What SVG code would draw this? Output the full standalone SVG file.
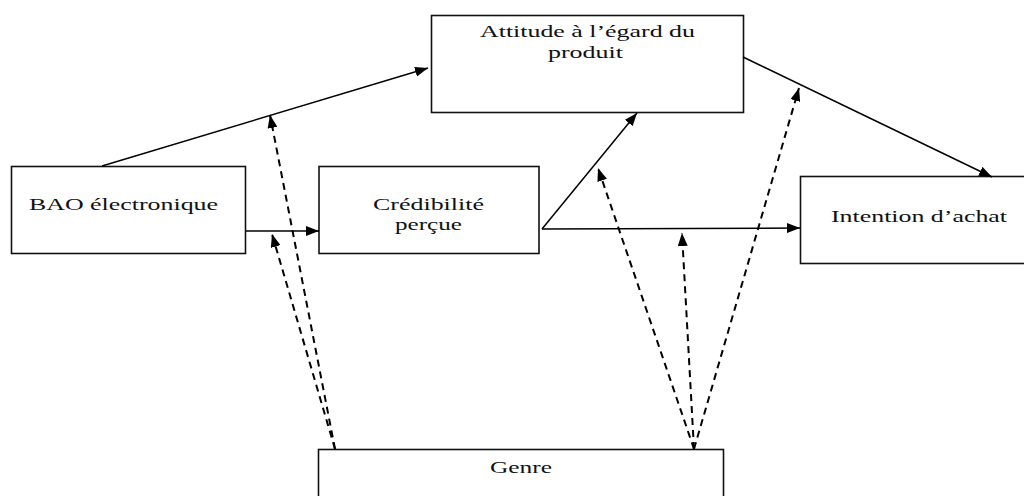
<svg xmlns="http://www.w3.org/2000/svg" width="1024" height="496" viewBox="0 0 1024 496">
<style>
.box{fill:#fff;stroke:#111;stroke-width:1.6}
.t{font-family:"Liberation Serif","Times New Roman",serif;font-size:17.5px;fill:#111}
.c{fill:none;stroke:#000;stroke-width:1.5}
.d{fill:none;stroke:#000;stroke-width:2;stroke-dasharray:7 5}
</style>
<defs>
<marker id="ah" markerUnits="userSpaceOnUse" markerWidth="14" markerHeight="10" refX="13" refY="5" orient="auto">
<path d="M0,0 L13,5 L0,10 z" fill="#000" stroke="none"/>
</marker>
</defs>
<g id="attitude">
<rect class="box" x="431.5" y="15.5" width="312" height="97"/>
<text class="t" x="480" y="36.5" textLength="215" lengthAdjust="spacingAndGlyphs">Attitude à l’égard du</text>
<text class="t" x="548" y="58" textLength="75" lengthAdjust="spacingAndGlyphs">produit</text>
</g>
<g id="bao">
<rect class="box" x="11.5" y="166.5" width="234" height="87"/>
<text class="t" x="29" y="209.5" textLength="189" lengthAdjust="spacingAndGlyphs">BAO électronique</text>
</g>
<g id="credibilite">
<rect class="box" x="319" y="166.5" width="220" height="87"/>
<text class="t" x="373" y="210" textLength="111" lengthAdjust="spacingAndGlyphs">Crédibilité</text>
<text class="t" x="395" y="230" textLength="67" lengthAdjust="spacingAndGlyphs">perçue</text>
</g>
<g id="intention">
<rect class="box" x="800.5" y="176.5" width="226" height="87"/>
<text class="t" x="831" y="221.5" textLength="176" lengthAdjust="spacingAndGlyphs">Intention d’achat</text>
</g>
<g id="genre">
<rect class="box" x="318.5" y="449.5" width="405" height="60"/>
<text class="t" x="490" y="472.5" textLength="62" lengthAdjust="spacingAndGlyphs">Genre</text>
</g>
<g id="connectors">
<line class="c" x1="102" y1="166" x2="428" y2="68" marker-end="url(#ah)"/>
<line class="c" x1="246" y1="231" x2="319" y2="231" marker-end="url(#ah)"/>
<line class="c" x1="542" y1="229" x2="637" y2="113" marker-end="url(#ah)"/>
<line class="c" x1="542" y1="229" x2="800" y2="228" marker-end="url(#ah)"/>
<line class="c" x1="743" y1="57" x2="992" y2="177" marker-end="url(#ah)"/>
<line class="d" x1="335" y1="449" x2="270" y2="115" marker-end="url(#ah)"/>
<line class="d" x1="335" y1="449" x2="272" y2="234" marker-end="url(#ah)"/>
<line class="d" x1="694" y1="449" x2="598" y2="168" marker-end="url(#ah)"/>
<line class="d" x1="694" y1="449" x2="682" y2="233" marker-end="url(#ah)"/>
<line class="d" x1="694" y1="449" x2="799" y2="88" marker-end="url(#ah)"/>
</g>
</svg>
